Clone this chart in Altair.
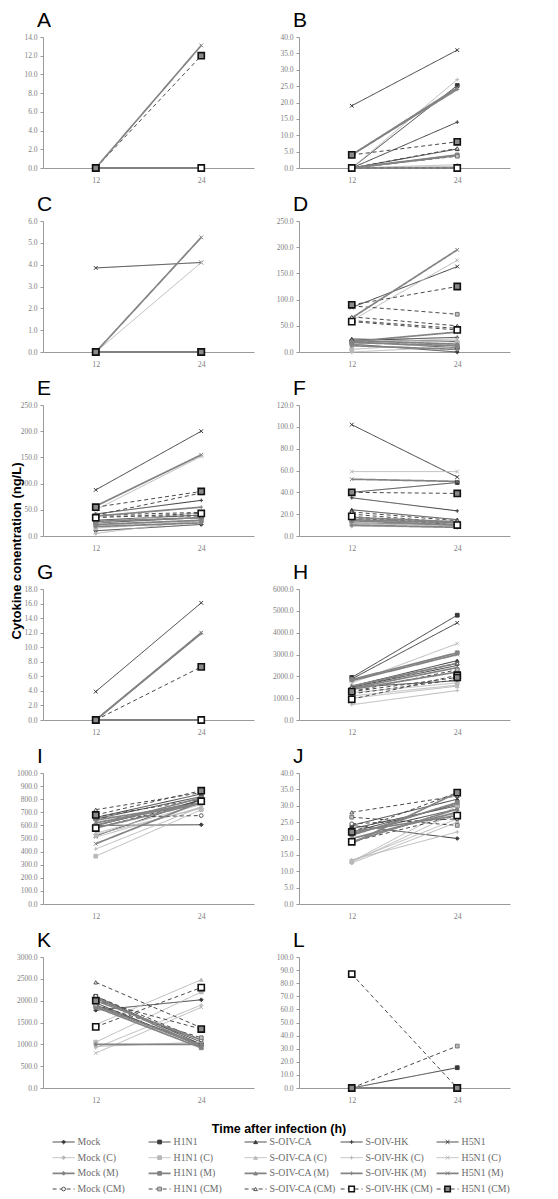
import altair as alt
import pandas as pd

VIRUSES = ["Mock", "H1N1", "S-OIV-CA", "S-OIV-HK", "H5N1"]
CELLS = ["", " (C)", " (M)", " (CM)"]
TIMES = ["12", "24"]
SERIES = [v + c for c in CELLS for v in VIRUSES]

# values in SERIES order: base x5, (C) x5, (M) x5, (CM) x5
A_12 = [0, 0, 0, 0, 0,   0, 0, 0, 0, 0,   0, 0, 0, 0, 0,   0, 0, 0, 0, 0]
A_24 = [0, 0, 0, 0, 0,   0, 0, 0, 0, 0,   0, 0, 0, 0, 13.1, 0, 0, 0, 0, 12.0]

B_12 = [0, 0, 0, 0, 19,  0, 0, 0, 0, 0,   0, 0, 0, 4, 4,   0, 0, 0, 0, 4]
B_24 = [0, 25.2, 5.8, 14, 36,  0, 0.5, 1, 27, 4,  0, 4, 3.8, 24, 24.5,  0, 3.6, 6, 0, 8]

C_12 = [0, 0, 0, 0, 3.85,  0, 0, 0, 0, 0,  0, 0, 0, 0, 0,  0, 0, 0, 0, 0]
C_24 = [0, 0, 0, 0, 4.1,   0, 0, 0, 0, 4.1,  0, 0, 0, 0, 5.25,  0, 0, 0, 0, 0]

D_12 = [15, 20, 25, 22, 85,  0, 5, 15, 18, 60,  12, 18, 22, 20, 65,  60, 88, 67, 58, 90]
D_24 = [0, 8, 20, 28, 163,  10, 18, 22, 25, 175,  5, 12, 15, 38, 195,  45, 72, 50, 42, 125]

E_12 = [10, 25, 30, 42, 88,  5, 15, 20, 25, 50,  18, 22, 28, 38, 57,  38, 40, 40, 35, 55]
E_24 = [22, 35, 40, 68, 200,  30, 28, 30, 45, 152,  25, 30, 35, 55, 155,  38, 45, 82, 43, 85]

F_12 = [12, 40, 24, 35, 102,  9, 12, 11, 14, 59,  10, 14, 15, 17, 52,  16, 20, 22, 18, 40]
F_24 = [10, 49, 15, 23, 54,  8, 9, 10, 11, 59,  8, 10, 12, 13, 50,  12, 12, 14, 10, 39]

G_12 = [0, 0, 0, 0, 3.9,  0, 0, 0, 0, 0,  0, 0, 0, 0, 0,  0, 0, 0, 0, 0]
G_24 = [0, 0, 0, 0, 16.1,  0, 0, 0, 0, 0,  0, 0, 0, 11.9, 12.0,  0, 0, 0, 0, 7.3]

H_12 = [1500, 1950, 1550, 1500, 1880,  1100, 1250, 1000, 700, 1700,  1400, 1850, 1550, 1450, 1800,  1200, 1300, 1500, 950, 1300]
H_24 = [1800, 4800, 2720, 2500, 4450,  1600, 1700, 1550, 1350, 3500,  2200, 3080, 2600, 2400, 3000,  1850, 2300, 2600, 2050, 1950]

I_12 = [600, 650, 660, 600, 520,  530, 365, 540, 420, 510,  640, 600, 620, 580, 460,  660, 665, 720, 580, 680]
I_24 = [605, 820, 840, 790, 800,  730, 720, 760, 740, 740,  770, 810, 770, 770, 780,  675, 800, 850, 785, 865]

J_12 = [24, 23, 24, 21.5, 22,  12.5, 13, 12.8, 13.5, 13.2,  22, 21, 19, 20, 18.5,  24.5, 26.5, 28, 19, 22]
J_24 = [20, 30, 32, 29, 30.5,  25, 30, 28, 22, 26,  27, 31, 29, 28, 34,  26, 24, 33, 27, 34]

K_12 = [1780, 2100, 2050, 1950, 1900,  950, 1050, 1450, 920, 800,  1000, 1850, 2000, 1880, 2080,  2100, 1900, 2420, 1400, 2000]
K_24 = [2020, 1000, 1050, 950, 1000,  1050, 2200, 2480, 1900, 1850,  1000, 920, 1100, 980, 950,  1100, 1150, 1380, 2300, 1350]

L_12 = [0, 0, 0, 0, 0,  0, 0, 0, 0, 0,  0, 0, 0, 0, 0,  0, 0, 0, 87, 0]
L_24 = [0, 15.5, 0, 0, 0,  0, 0, 0, 0, 0,  0, 0, 0, 0, 0,  0, 32, 0, 0, 0]

LETTERS = ["A", "B", "C", "D", "E", "F", "G", "H", "I", "J", "K", "L"]
VALUES_12 = [A_12, B_12, C_12, D_12, E_12, F_12, G_12, H_12, I_12, J_12, K_12, L_12]
VALUES_24 = [A_24, B_24, C_24, D_24, E_24, F_24, G_24, H_24, I_24, J_24, K_24, L_24]
Y_MAX = [14, 40, 6, 250, 250, 120, 18, 6000, 1000, 40, 3000, 100]
Y_STEP = [2, 5, 1, 50, 50, 20, 2, 1000, 100, 5, 500, 10]

Y_TITLE = "Cytokine conentration (ng/L)"
X_TITLE = "Time after infection (h)"

# ---- styles ----
LINE_COLOR = {"": "#3a3a3a", " (C)": "#b9b9b9", " (M)": "#838383", " (CM)": "#4a4a4a"}
BASE_SHAPES = ["diamond", "square", "triangle-up", "M-1,0L1,0M0,-1L0,1", "M-1,-1L1,1M-1,1L1,-1"]
CM_SHAPES = ["circle", "square", "triangle-up", "square", "square"]
CM_FILL = ["white", "#bdbdbd", "white", "white", "#8a8a8a"]
CM_STROKE = ["#555555", "#777777", "#555555", "#111111", "#111111"]
BIG = ["S-OIV-HK (CM)", "H5N1 (CM)"]

color_range, dash_range, shape_range, fill_range, mstroke_range = [], [], [], [], []
for c in CELLS:
    for i, v in enumerate(VIRUSES):
        color_range.append(LINE_COLOR[c])
        dash_range.append([4, 3] if c == " (CM)" else [1, 0])
        if c == " (CM)":
            shape_range.append(CM_SHAPES[i])
            fill_range.append(CM_FILL[i])
            mstroke_range.append(CM_STROKE[i])
        else:
            shape_range.append(BASE_SHAPES[i])
            fill_range.append(LINE_COLOR[c] if i < 3 else "transparent")
            mstroke_range.append(LINE_COLOR[c])

color_enc = alt.Color("series:N", scale=alt.Scale(domain=SERIES, range=color_range), legend=None)
dash_enc = alt.StrokeDash("series:N", scale=alt.Scale(domain=SERIES, range=dash_range), legend=None)
shape_enc = alt.Shape("series:N", scale=alt.Scale(domain=SERIES, range=shape_range), legend=None)
fill_enc = alt.Fill("series:N", scale=alt.Scale(domain=SERIES, range=fill_range), legend=None)
stroke_enc = alt.Stroke("series:N", scale=alt.Scale(domain=SERIES, range=mstroke_range), legend=None)

LABEL_FONT = "Liberation Serif"
AX_COL = "#9a9a9a"
BIG_TEST = "indexof(" + str(BIG).replace("'", '"') + ", datum.series) >= 0"


def panel(idx):
    rows = []
    for i, s in enumerate(SERIES):
        for t, vals in zip(TIMES, (VALUES_12[idx], VALUES_24[idx])):
            rows.append({"series": s, "cell": CELLS[i // 5], "time": t, "value": vals[i]})
    df = pd.DataFrame(rows)
    ymax, step = Y_MAX[idx], Y_STEP[idx]
    ticks = [k * step for k in range(int(round(ymax / step)) + 1)]
    x = alt.X("time:O", scale=alt.Scale(type="point", padding=0.5, domain=TIMES),
              axis=alt.Axis(title=None, labelAngle=0, ticks=False, domainColor=AX_COL,
                            labelFont=LABEL_FONT, labelFontSize=8, labelColor="#808080",
                            labelPadding=8))
    y = alt.Y("value:Q", scale=alt.Scale(domain=[0, ymax], nice=False, zero=True),
              axis=alt.Axis(title=None, values=ticks, format=".1f", grid=False, tickSize=3,
                            tickColor=AX_COL, domainColor=AX_COL, labelFont=LABEL_FONT,
                            labelFontSize=7.5, labelColor="#808080", labelPadding=3))
    base = alt.Chart(df)
    thin = base.transform_filter("datum.cell != ' (M)'").mark_line(strokeWidth=1).encode(
        x=x, y=y, color=color_enc, strokeDash=dash_enc)
    thick = base.transform_filter("datum.cell == ' (M)'").mark_line(strokeWidth=1.7).encode(
        x=x, y=y, color=color_enc, strokeDash=dash_enc)
    pts = base.transform_filter("!(" + BIG_TEST + ")").mark_point(
        size=14, opacity=1, strokeWidth=1).encode(
        x=x, y=y, shape=shape_enc, fill=fill_enc, stroke=stroke_enc)
    bigpts = base.transform_filter(BIG_TEST).mark_point(
        size=38, opacity=1, strokeWidth=1.6).encode(
        x=x, y=y, shape=shape_enc, fill=fill_enc, stroke=stroke_enc)
    return alt.layer(thin, thick, pts, bigpts).properties(
        width=211, height=131,
        title=alt.TitleParams(LETTERS[idx], anchor="start", frame="group", fontSize=21,
                              font="Liberation Sans", fontWeight="normal", color="black",
                              offset=2, dx=-6))


panels = [panel(i) for i in range(12)]
grid = alt.concat(*panels, columns=2, spacing={"row": 10, "column": 18}).resolve_scale(
    y="independent").properties(
    title=alt.TitleParams(Y_TITLE, orient="left", anchor="middle", fontSize=13,
                          font="Liberation Sans", fontWeight="bold", color="black",
                          offset=-8, dx=6))

# ---- custom legend ----
leg_rows = []
for r, c in enumerate(CELLS):
    for k, v in enumerate(VIRUSES):
        leg_rows.append({"series": v + c, "cell": c, "col": k, "row": r})
leg_df = pd.DataFrame(leg_rows)
lx = alt.X("col:Q", scale=alt.Scale(domain=[-0.1, 4.9]), axis=None)
ly = alt.Y("row:Q", scale=alt.Scale(domain=[0, 3], reverse=True), axis=None)
lbase = alt.Chart(leg_df)
l_thin = lbase.transform_filter("datum.cell != ' (M)'").mark_rule(strokeWidth=1, x2Offset=22).encode(
    x=lx, x2="col:Q", y=ly, color=color_enc, strokeDash=dash_enc)
l_thick = lbase.transform_filter("datum.cell == ' (M)'").mark_rule(strokeWidth=1.7, x2Offset=22).encode(
    x=lx, x2="col:Q", y=ly, color=color_enc, strokeDash=dash_enc)
l_pts = lbase.transform_filter("!(" + BIG_TEST + ")").mark_point(
    size=14, opacity=1, strokeWidth=1, xOffset=11).encode(
    x=lx, y=ly, shape=shape_enc, fill=fill_enc, stroke=stroke_enc)
l_big = lbase.transform_filter(BIG_TEST).mark_point(
    size=30, opacity=1, strokeWidth=1.5, xOffset=11).encode(
    x=lx, y=ly, shape=shape_enc, fill=fill_enc, stroke=stroke_enc)
l_txt = lbase.mark_text(dx=25, align="left", baseline="middle", font="Liberation Serif",
                        fontSize=9.8, color="#6a6a6a").encode(x=lx, y=ly, text="series:N")
legend = alt.layer(l_thin, l_thick, l_pts, l_big, l_txt).properties(
    width=480, height=47,
    title=alt.TitleParams(X_TITLE, anchor="middle", fontSize=12.5, font="Liberation Sans",
                          fontWeight="bold", color="black", offset=2, dx=-4))

chart = alt.vconcat(grid, legend, spacing=18).resolve_scale(
    x="independent", y="independent").properties(
    padding={"left": 3, "top": 2, "right": 4, "bottom": 0}
).configure_view(stroke=None)

chart.save("out.html", embed_options={"renderer": "svg", "actions": False})
